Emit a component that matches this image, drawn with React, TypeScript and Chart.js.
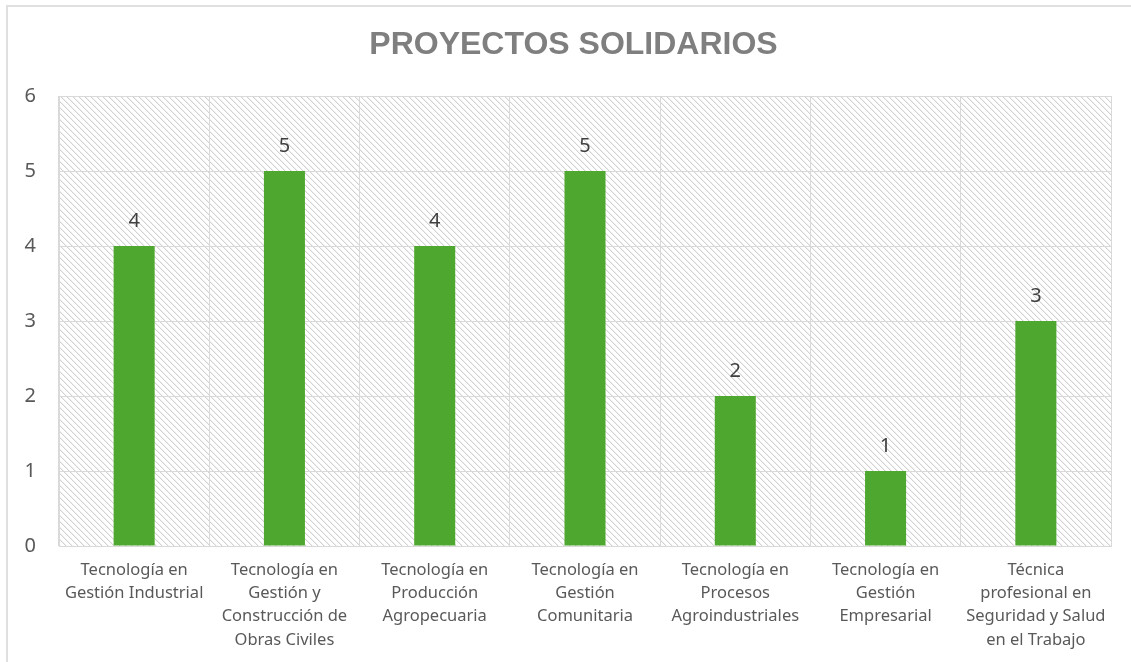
import React, { useEffect, useRef } from "react";
import { Chart, registerables } from "chart.js";

Chart.register(...registerables);

const title = "PROYECTOS SOLIDARIOS";
const categories: string[][] = [
  ["Tecnología en", "Gestión Industrial"],
  ["Tecnología en", "Gestión y", "Construcción de", "Obras Civiles"],
  ["Tecnología en", "Producción", "Agropecuaria"],
  ["Tecnología en", "Gestión", "Comunitaria"],
  ["Tecnología en", "Procesos", "Agroindustriales"],
  ["Tecnología en", "Gestión", "Empresarial"],
  ["Técnica", "profesional en", "Seguridad y Salud", "en el Trabajo"],
];
const values: number[] = [4, 5, 4, 5, 2, 1, 3];
const yTicks: number[] = [0, 1, 2, 3, 4, 5, 6];

const FONT = "'Noto Sans', 'Open Sans', sans-serif";

function makePattern(ctx: CanvasRenderingContext2D): CanvasPattern | string {
  const size = 6;
  const c = document.createElement("canvas");
  c.width = size;
  c.height = size;
  const g = c.getContext("2d");
  if (!g) return "#fff";
  const img = g.createImageData(size, size);
  for (let y = 0; y < size; y++) {
    for (let x = 0; x < size; x++) {
      const d = (((x - y) % size) + size) % size;
      let v = 255;
      if (d === 0) v = 210;
      else if (d === 1) v = 240;
      const i = (y * size + x) * 4;
      img.data[i] = v;
      img.data[i + 1] = v;
      img.data[i + 2] = v;
      img.data[i + 3] = 255;
    }
  }
  g.putImageData(img, 0, 0);
  return ctx.createPattern(c, "repeat") || "#fff";
}

const hatchPlugin = {
  id: "hatchBg",
  beforeDraw(chart: any) {
    const { ctx, chartArea } = chart;
    if (!chartArea) return;
    ctx.save();
    ctx.fillStyle = makePattern(ctx);
    ctx.fillRect(chartArea.left, chartArea.top, chartArea.right - chartArea.left, chartArea.bottom - chartArea.top);
    ctx.restore();
  },
};

const titlePlugin = {
  id: "customTitle",
  afterDraw(chart: any) {
    const { ctx } = chart;
    ctx.save();
    ctx.font = "bold 32px 'Liberation Sans', Arial, sans-serif";
    ctx.fillStyle = "#7f7f7f";
    ctx.textAlign = "center";
    ctx.textBaseline = "middle";
    ctx.fillText(title, 573.5, 45);
    ctx.restore();
  },
};

const valueLabelPlugin = {
  id: "valueLabels",
  afterDatasetsDraw(chart: any) {
    const { ctx } = chart;
    const meta = chart.getDatasetMeta(0);
    ctx.save();
    ctx.font = `20px ${FONT}`;
    ctx.fillStyle = "#404040";
    ctx.textAlign = "center";
    ctx.textBaseline = "middle";
    meta.data.forEach((bar: any, i: number) => {
      ctx.fillText(String(values[i]), bar.x, bar.y - 25);
    });
    ctx.restore();
  },
};

export default function App() {
  const ref = useRef<HTMLCanvasElement | null>(null);

  useEffect(() => {
    if (!ref.current) return;
    const chart = new Chart(ref.current, {
      type: "bar",
      data: {
        labels: categories,
        datasets: [
          {
            data: values,
            backgroundColor: "#4ea72e",
            borderWidth: 0,
            barPercentage: 0.273,
            categoryPercentage: 1,
          },
        ],
      },
      options: {
        animation: false,
        responsive: false,
        maintainAspectRatio: false,
        layout: { padding: { left: 16, right: 20, top: 96, bottom: 0 } },
        plugins: {
          legend: { display: false },
          tooltip: { enabled: false },
          title: { display: false },
        },
        scales: {
          x: {
            grid: { color: "#d9d9d9", lineWidth: 1, drawTicks: false, offset: true },
            border: { color: "#d9d9d9", width: 1 },
            ticks: {
              color: "#595959",
              font: { family: FONT, size: 16.5, lineHeight: 1.4 },
              padding: 13,
              maxRotation: 0,
              minRotation: 0,
              autoSkip: false,
            },
            afterFit(scale: any) {
              scale.height = 116;
            },
          },
          y: {
            min: 0,
            max: 6,
            afterBuildTicks(scale: any) {
              scale.ticks = yTicks.map((v) => ({ value: v }));
            },
            grid: { color: "#d9d9d9", lineWidth: 1, drawTicks: false },
            border: { color: "#d9d9d9", width: 1 },
            ticks: {
              color: "#595959",
              font: { family: FONT, size: 20 },
              padding: 23,
            },
            afterFit(scale: any) {
              scale.width = 43;
            },
          },
        },
      },
      plugins: [hatchPlugin, valueLabelPlugin, titlePlugin],
    });
    return () => chart.destroy();
  }, []);

  return (
    <div style={{ position: "fixed", left: 0, top: 0, width: 1131, height: 662, background: "#fff", overflow: "hidden" }}>
      <div
        style={{
          position: "absolute",
          left: 6,
          top: 5,
          right: -10,
          bottom: -10,
          borderTop: "2px solid #e0e0e0",
          borderLeft: "2px solid #e0e0e0",
        }}
      />
      <canvas ref={ref} width={1131} height={662} style={{ position: "absolute", left: 0, top: 0, width: 1131, height: 662 }} />
    </div>
  );
}
